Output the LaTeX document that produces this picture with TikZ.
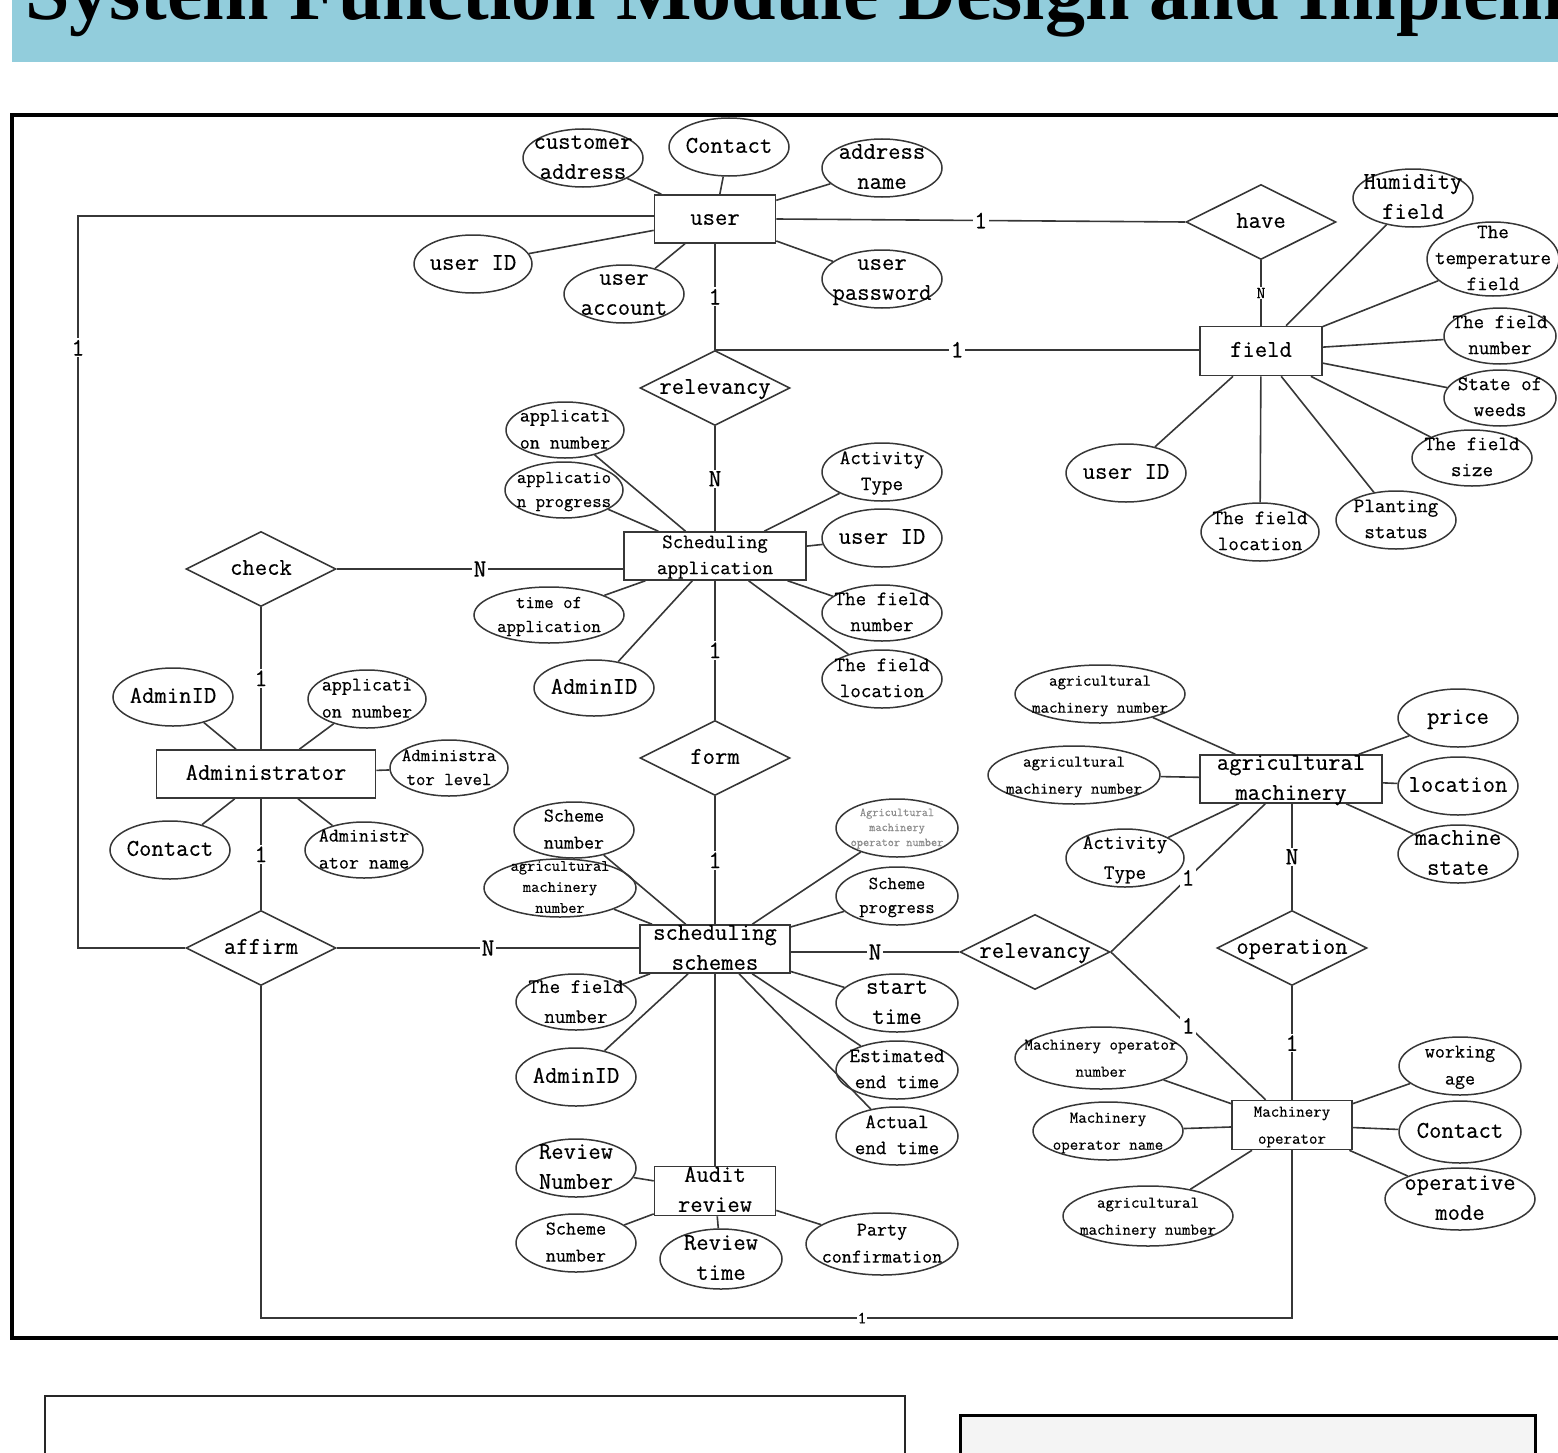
\documentclass[tikz,border=0pt]{standalone}
\usepackage{fontspec}
\setmainfont{Liberation Serif}
\newfontfamily\ermono{Latin Modern Mono}[FakeBold=0.4]
\usetikzlibrary{shapes.geometric}

\definecolor{bannerblue}{RGB}{146,205,220}
\definecolor{inkline}{RGB}{55,55,55}
\definecolor{panelgray}{RGB}{244,244,244}

% centred multi-line text that does not change the size of its shape
\newcommand{\ctext}[1]{\smash{\makebox[0pt]{\raisebox{-0.25em}{\begin{tabular}{@{}c@{}}#1\end{tabular}}}}}
\newcommand{\fA}{\ermono\fontsize{24}{30}\selectfont}
\newcommand{\fB}{\ermono\fontsize{20.5}{26}\selectfont}
\newcommand{\fBw}{\ermono\fontsize{20.5}{30}\selectfont}
\newcommand{\fS}{\ermono\fontsize{19.5}{27}\selectfont}
\newcommand{\fC}{\ermono\fontsize{18.3}{24}\selectfont}
\newcommand{\fD}{\ermono\fontsize{16.5}{27}\selectfont}
\newcommand{\fDt}{\ermono\fontsize{16}{21}\selectfont}
\newcommand{\fE}{\ermono\fontsize{12}{15}\selectfont}
\newcommand{\fL}{\ermono\fontsize{25}{27}\selectfont}

\begin{document}
\begin{tikzpicture}[x=1pt,y=-1pt,
  ent/.style={rectangle, draw=inkline, line width=1.6pt, inner sep=0pt, fill=white},
  rel/.style={diamond, draw=inkline, line width=1.6pt, inner sep=0pt, fill=white,
              minimum width=150, minimum height=75},
  attr/.style={ellipse, draw=inkline, line width=1.5pt, inner sep=0pt, fill=white},
  con/.style={draw=inkline, line width=1.6pt},
  lbl/.style={fill=white, inner sep=1.5pt, font=\fL},
  lbls/.style={fill=white, inner sep=1pt, font=\ermono\fontsize{17}{19}\selectfont}]

\useasboundingbox (0,0) rectangle (1558,1453);
\clip (0,0) rectangle (1558,1453);

% heading banner
\fill[bannerblue] (12,-10) rectangle (1620,62);
\node[anchor=base west, inner sep=0pt, font=\fontsize{80}{90}\selectfont\bfseries] (title) at (25,20)
  {System Function Module Design and Implementation};

% outer frame of the ER diagram
\draw[line width=4pt] (12,115) rectangle (1620,1338);

% panels below the diagram
\draw[line width=2pt, black!85] (45,1520) -- (45,1396) -- (905,1396) -- (905,1520);
\draw[line width=3pt, fill=panelgray] (960,1415) rectangle (1535,1530);

% corner points of the long relationship lines
\coordinate (ltop) at (78,216);
\coordinate (lbot) at (78,948);
\coordinate (bl) at (261,1318);
\coordinate (br) at (1292,1318);

% ---------------- entities
\node[ent, minimum width=121, minimum height=48, font=\fA] (user) at (715,219) {\ctext{user}};
\node[ent, minimum width=122, minimum height=49, font=\fA] (field) at (1261,351) {\ctext{field}};
\node[ent, minimum width=182, minimum height=48, font=\fB] (sa) at (715,556) {\ctext{Scheduling\\application}};
\node[ent, minimum width=219, minimum height=48, font=\fA] (admin) at (266,774) {\ctext{Administrator}};
\node[ent, minimum width=182, minimum height=48, font=\fA] (am) at (1291,779) {\ctext{agricultural\\machinery}};
\node[ent, minimum width=150, minimum height=48, font=\fA] (ss) at (715,949) {\ctext{scheduling\\schemes}};
\node[ent, minimum width=120, minimum height=49, font=\fD] (mo) at (1292,1125) {\ctext{Machinery\\operator}};
\node[ent, minimum width=121, minimum height=49, font=\fA] (audit) at (715,1191) {\ctext{Audit\\review}};

% ---------------- relations
\node[rel, font=\fA] (have) at (1261,222) {\ctext{have}};
\node[rel, font=\fA] (relA) at (715,388) {\ctext{relevancy}};
\node[rel, font=\fA] (check) at (261,569) {\ctext{check}};
\node[rel, font=\fA] (form) at (715,758) {\ctext{form}};
\node[rel, font=\fA] (affirm) at (261,948) {\ctext{affirm}};
\node[rel, font=\fA] (relB) at (1035,952) {\ctext{relevancy}};
\node[rel, font=\fA] (oper) at (1292,948) {\ctext{operation}};

% relationship lines with cardinalities
\draw[con] (user.west |- ltop) -- (ltop) -- node[lbl, pos=0.18] (k1) {1} (lbot) -- (affirm.west);
\draw[con] (affirm.south) -- (bl) -- node[lbls, pos=0.583] (k2) {1} (br) -- (mo.south);
\draw[con] (user.east) -- node[lbl] (k3) {1} (have.west);
\draw[con] (have.south) -- node[lbls] (k4) {N} (field.north);
\draw[con] (user.south) -- node[lbl] (k5) {1} (relA.north);
\draw[con] (relA.north) -- node[lbl] (k6) {1} (relA.north -| field.west);
\draw[con] (relA.south) -- node[lbl] (k7) {N} (sa.north);
\draw[con] (check.east) -- node[lbl] (k8) {N} (check.east -| sa.west);
\draw[con] (check.south) -- node[lbl] (k9) {1} (check.south |- admin.north);
\draw[con] (sa.south) -- node[lbl] (k10) {1} (form.north);
\draw[con] (form.south) -- node[lbl] (k11) {1} (ss.north);
\draw[con] (admin.south -| affirm.north) -- node[lbl] (k12) {1} (affirm.north);
\draw[con] (affirm.east) -- node[lbl] (k13) {N} (affirm.east -| ss.west);
\draw[con] (ss.east |- relB.west) -- node[lbl] (k14) {N} (relB.west);
\draw[con] (relB.east) -- node[lbl] (k15) {1} (am);
\draw[con] (relB.east) -- node[lbl] (k16) {1} (mo);
\draw[con] (am.south -| oper.north) -- node[lbl] (k17) {N} (oper.north);
\draw[con] (oper.south) -- node[lbl] (k18) {1} (mo.north);
\draw[con] (ss.south) -- (audit.north);

% ---------------- attributes of user
\node[attr, minimum width=120, minimum height=58, font=\fA] (uA1) at (583,158) {\ctext{customer\\address}};
\node[attr, minimum width=120, minimum height=58, font=\fA] (uA2) at (729,147) {\ctext{Contact}};
\node[attr, minimum width=120, minimum height=58, font=\fA] (uA3) at (882,168) {\ctext{address\\name}};
\node[attr, minimum width=118, minimum height=58, font=\fA] (uA4) at (473,264) {\ctext{user ID}};
\node[attr, minimum width=120, minimum height=58, font=\fA] (uA5) at (624,294) {\ctext{user\\account}};
\node[attr, minimum width=120, minimum height=58, font=\fA] (uA6) at (882,279) {\ctext{user\\password}};

% attributes of field
\node[attr, minimum width=120, minimum height=58, font=\fA] (fA1) at (1413,198) {\ctext{Humidity\\field}};
\node[attr, minimum width=132, minimum height=74, font=\fB] (fA2) at (1493,259) {\ctext{The\\temperature\\field}};
\node[attr, minimum width=112, minimum height=56, font=\fB] (fA3) at (1500,336) {\ctext{The field\\number}};
\node[attr, minimum width=112, minimum height=56, font=\fB] (fA4) at (1500,398) {\ctext{State of\\weeds}};
\node[attr, minimum width=120, minimum height=56, font=\fB] (fA5) at (1472,458) {\ctext{The field\\size}};
\node[attr, minimum width=120, minimum height=58, font=\fB] (fA6) at (1396,520) {\ctext{Planting\\status}};
\node[attr, minimum width=118, minimum height=58, font=\fB] (fA7) at (1260,532) {\ctext{The field\\location}};
\node[attr, minimum width=120, minimum height=58, font=\fA] (fA8) at (1126,473) {\ctext{user ID}};

% attributes of scheduling application
\node[attr, minimum width=118, minimum height=56, font=\fS] (sA1) at (565,430) {\ctext{applicati\\on number}};
\node[attr, minimum width=118, minimum height=56, font=\fC] (sA2) at (564,490) {\ctext{applicatio\\n progress}};
\node[attr, minimum width=120, minimum height=58, font=\fB] (sA3) at (882,472) {\ctext{Activity\\Type}};
\node[attr, minimum width=120, minimum height=58, font=\fA] (sA4) at (882,538) {\ctext{user ID}};
\node[attr, minimum width=120, minimum height=56, font=\fB] (sA5) at (882,613) {\ctext{The field\\number}};
\node[attr, minimum width=120, minimum height=58, font=\fB] (sA6) at (882,679) {\ctext{The field\\location}};
\node[attr, minimum width=150, minimum height=56, font=\fC] (sA7) at (549,615) {\ctext{time of\\application}};
\node[attr, minimum width=120, minimum height=56, font=\fA] (sA8) at (594,688) {\ctext{AdminID}};

% attributes of administrator
\node[attr, minimum width=120, minimum height=58, font=\fA] (aA1) at (173,697) {\ctext{AdminID}};
\node[attr, minimum width=118, minimum height=58, font=\fS] (aA2) at (367,699) {\ctext{applicati\\on number}};
\node[attr, minimum width=118, minimum height=56, font=\fC] (aA3) at (449,768) {\ctext{Administra\\tor level}};
\node[attr, minimum width=120, minimum height=58, font=\fA] (aA4) at (170,850) {\ctext{Contact}};
\node[attr, minimum width=118, minimum height=56, font=\fS] (aA5) at (364,850) {\ctext{Administr\\ator name}};

% attributes of agricultural machinery
\node[attr, minimum width=170, minimum height=58, font=\fD] (mA1) at (1100,694) {\ctext{agricultural\\machinery number}};
\node[attr, minimum width=172, minimum height=58, font=\fD] (mA2) at (1074,775) {\ctext{agricultural\\machinery number}};
\node[attr, minimum width=118, minimum height=58, font=\fBw] (mA3) at (1125,858) {\ctext{Activity\\Type}};
\node[attr, minimum width=120, minimum height=58, font=\fA] (mA4) at (1458,718) {\ctext{price}};
\node[attr, minimum width=120, minimum height=58, font=\fA] (mA5) at (1458,786) {\ctext{location}};
\node[attr, minimum width=120, minimum height=58, font=\fA] (mA6) at (1458,854) {\ctext{machine\\state}};

% attributes of scheduling schemes
\node[attr, minimum width=120, minimum height=56, font=\fS] (ssA1) at (574,830) {\ctext{Scheme\\number}};
\node[attr, minimum width=152, minimum height=58, font=\fDt] (ssA2) at (560,888) {\ctext{agricultural\\machinery\\number}};
\node[attr, minimum width=122, minimum height=58, font=\fE, text=black!45] (ssA3) at (897,828) {\ctext{Agricultural\\machinery\\operator number}};
\node[attr, minimum width=122, minimum height=58, font=\fC] (ssA4) at (897,896) {\ctext{Scheme\\progress}};
\node[attr, minimum width=120, minimum height=56, font=\fBw] (ssA5) at (576,1002) {\ctext{The field\\number}};
\node[attr, minimum width=120, minimum height=58, font=\fA] (ssA6) at (576,1077) {\ctext{AdminID}};
\node[attr, minimum width=122, minimum height=58, font=\fA] (ssA7) at (897,1003) {\ctext{start\\time}};
\node[attr, minimum width=122, minimum height=58, font=\fB] (ssA8) at (897,1070) {\ctext{Estimated\\end time}};
\node[attr, minimum width=122, minimum height=58, font=\fB] (ssA9) at (897,1136) {\ctext{Actual\\end time}};

% attributes of machinery operator
\node[attr, minimum width=172, minimum height=62, font=\fD] (oA1) at (1101,1058) {\ctext{Machinery operator\\number}};
\node[attr, minimum width=150, minimum height=58, font=\fD] (oA2) at (1108,1131) {\ctext{Machinery\\operator name}};
\node[attr, minimum width=170, minimum height=60, font=\fD] (oA3) at (1148,1216) {\ctext{agricultural\\machinery number}};
\node[attr, minimum width=122, minimum height=58, font=\fS] (oA4) at (1460,1066) {\ctext{working\\age}};
\node[attr, minimum width=122, minimum height=62, font=\fA] (oA5) at (1460,1132) {\ctext{Contact}};
\node[attr, minimum width=150, minimum height=62, font=\fA] (oA6) at (1460,1199) {\ctext{operative\\mode}};

% attributes of audit review
\node[attr, minimum width=120, minimum height=58, font=\fA] (rA1) at (576,1168) {\ctext{Review\\Number}};
\node[attr, minimum width=120, minimum height=58, font=\fS] (rA2) at (576,1243) {\ctext{Scheme\\number}};
\node[attr, minimum width=122, minimum height=60, font=\fA] (rA3) at (721,1259) {\ctext{Review\\time}};
\node[attr, minimum width=152, minimum height=62, font=\fS] (rA4) at (882,1244) {\ctext{Party\\confirmation}};

% attribute links
\foreach \a/\b in {uA1/user,uA2/user,uA3/user,uA4/user,uA5/user,uA6/user,
  fA1/field,fA2/field,fA3/field,fA4/field,fA5/field,fA6/field,fA7/field,fA8/field,
  sA1/sa,sA2/sa,sA3/sa,sA4/sa,sA5/sa,sA6/sa,sA7/sa,sA8/sa,
  aA1/admin,aA2/admin,aA3/admin,aA4/admin,aA5/admin,
  mA1/am,mA2/am,mA3/am,mA4/am,mA5/am,mA6/am,
  ssA1/ss,ssA2/ss,ssA3/ss,ssA4/ss,ssA5/ss,ssA6/ss,ssA7/ss,ssA8/ss,ssA9/ss,
  oA1/mo,oA2/mo,oA3/mo,oA4/mo,oA5/mo,oA6/mo,
  rA1/audit,rA2/audit,rA3/audit,rA4/audit}
  \draw[con] (\a) -- (\b);

\end{tikzpicture}
\end{document}
